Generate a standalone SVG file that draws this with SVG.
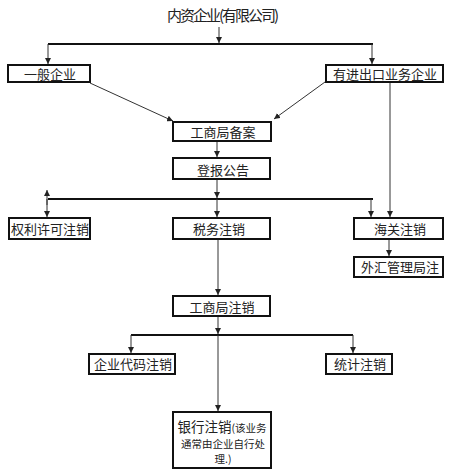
<svg xmlns="http://www.w3.org/2000/svg" width="450" height="476" viewBox="0 0 450 476">
<defs>
<marker id="ah" markerWidth="6" markerHeight="6" refX="6" refY="3" orient="auto" markerUnits="userSpaceOnUse"><path d="M0,0 L6,3 L0,6 z" fill="#222"/></marker>
<style>
.box{fill:#fff;stroke:#111;stroke-width:2}
.t{font-family:"Noto Sans CJK SC","Noto Sans",sans-serif;font-size:13px;fill:#222;text-anchor:middle}
.s{font-size:10.5px}
.ln{stroke:#333;stroke-width:1;fill:none}
.ar{stroke:#333;stroke-width:1;fill:none;marker-end:url(#ah)}
.bus{stroke:#111;stroke-width:2;fill:none}
</style>
</defs>
<rect width="450" height="476" fill="#fff"/>
<g id="connectors">
<line class="ar" x1="219" y1="27" x2="219" y2="43"/>
<line class="bus" x1="48" y1="44" x2="373" y2="44"/>
<line class="ar" x1="48" y1="44" x2="48" y2="64"/>
<line class="ar" x1="372" y1="44" x2="372" y2="64"/>
<line class="ar" x1="90" y1="83" x2="173" y2="121"/>
<line class="ar" x1="325" y1="82" x2="274" y2="119"/>
<line class="ar" x1="217" y1="141" x2="217" y2="157"/>
<line class="ar" x1="217" y1="179" x2="217" y2="198"/>
<line class="bus" x1="48" y1="199" x2="373" y2="199"/>
<line class="ar" x1="47" y1="205" x2="47" y2="190"/>
<line class="ar" x1="47" y1="199" x2="47" y2="217"/>
<line class="ar" x1="217" y1="199" x2="217" y2="217"/>
<line class="ar" x1="371" y1="199" x2="371" y2="217"/>
<line class="ar" x1="390" y1="82" x2="390" y2="217"/>
<line class="ar" x1="389" y1="239" x2="389" y2="256"/>
<line class="ar" x1="218" y1="239" x2="218" y2="295"/>
<line class="ar" x1="218" y1="316" x2="218" y2="334"/>
<line class="bus" x1="131" y1="335" x2="353" y2="335"/>
<line class="ar" x1="131" y1="335" x2="131" y2="353"/>
<line class="ar" x1="353" y1="335" x2="353" y2="353"/>
<line class="ar" x1="218" y1="335" x2="218" y2="411"/>
</g>
<g id="n-root"><text class="t" x="223" y="21" style="font-size:15px" textLength="112" lengthAdjust="spacing">内资企业(有限公司)</text></g>
<g id="n-general"><rect class="box" x="8" y="65" width="82" height="17"/><text class="t" x="50" y="79">一般企业</text></g>
<g id="n-import"><rect class="box" x="326" y="65" width="117" height="17"/><text class="t" x="385" y="79">有进出口业务企业</text></g>
<g id="n-aic-file"><rect class="box" x="173" y="122" width="98" height="19"/><text class="t" x="223" y="137">工商局备案</text></g>
<g id="n-notice"><rect class="box" x="173" y="158" width="97" height="21"/><text class="t" x="223" y="175">登报公告</text></g>
<g id="n-rights"><rect class="box" x="9" y="218" width="81" height="21"/><text class="t" x="50" y="234">权利许可注销</text></g>
<g id="n-tax"><rect class="box" x="173" y="218" width="97" height="21"/><text class="t" x="219" y="234">税务注销</text></g>
<g id="n-customs"><rect class="box" x="354" y="218" width="89" height="21"/><text class="t" x="400" y="234">海关注销</text></g>
<g id="n-forex"><rect class="box" x="354" y="257" width="89" height="20"/><text class="t" x="400" y="272">外汇管理局注</text></g>
<g id="n-aic-cancel"><rect class="box" x="173" y="296" width="97" height="20"/><text class="t" x="222" y="312">工商局注销</text></g>
<g id="n-code"><rect class="box" x="89" y="354" width="86" height="20"/><text class="t" x="133" y="369">企业代码注销</text></g>
<g id="n-stats"><rect class="box" x="326" y="354" width="66" height="20"/><text class="t" x="360" y="369">统计注销</text></g>
<g id="n-bank"><rect class="box" x="173" y="412" width="98" height="56"/>
<text class="t" x="222" y="432"><tspan style="font-size:13.5px">银行注销</tspan><tspan class="s">(该业务</tspan></text>
<text class="t s" x="223" y="448">通常由企业自行处</text>
<text class="t s" x="223" y="463">理.)</text>
</g>
</svg>
